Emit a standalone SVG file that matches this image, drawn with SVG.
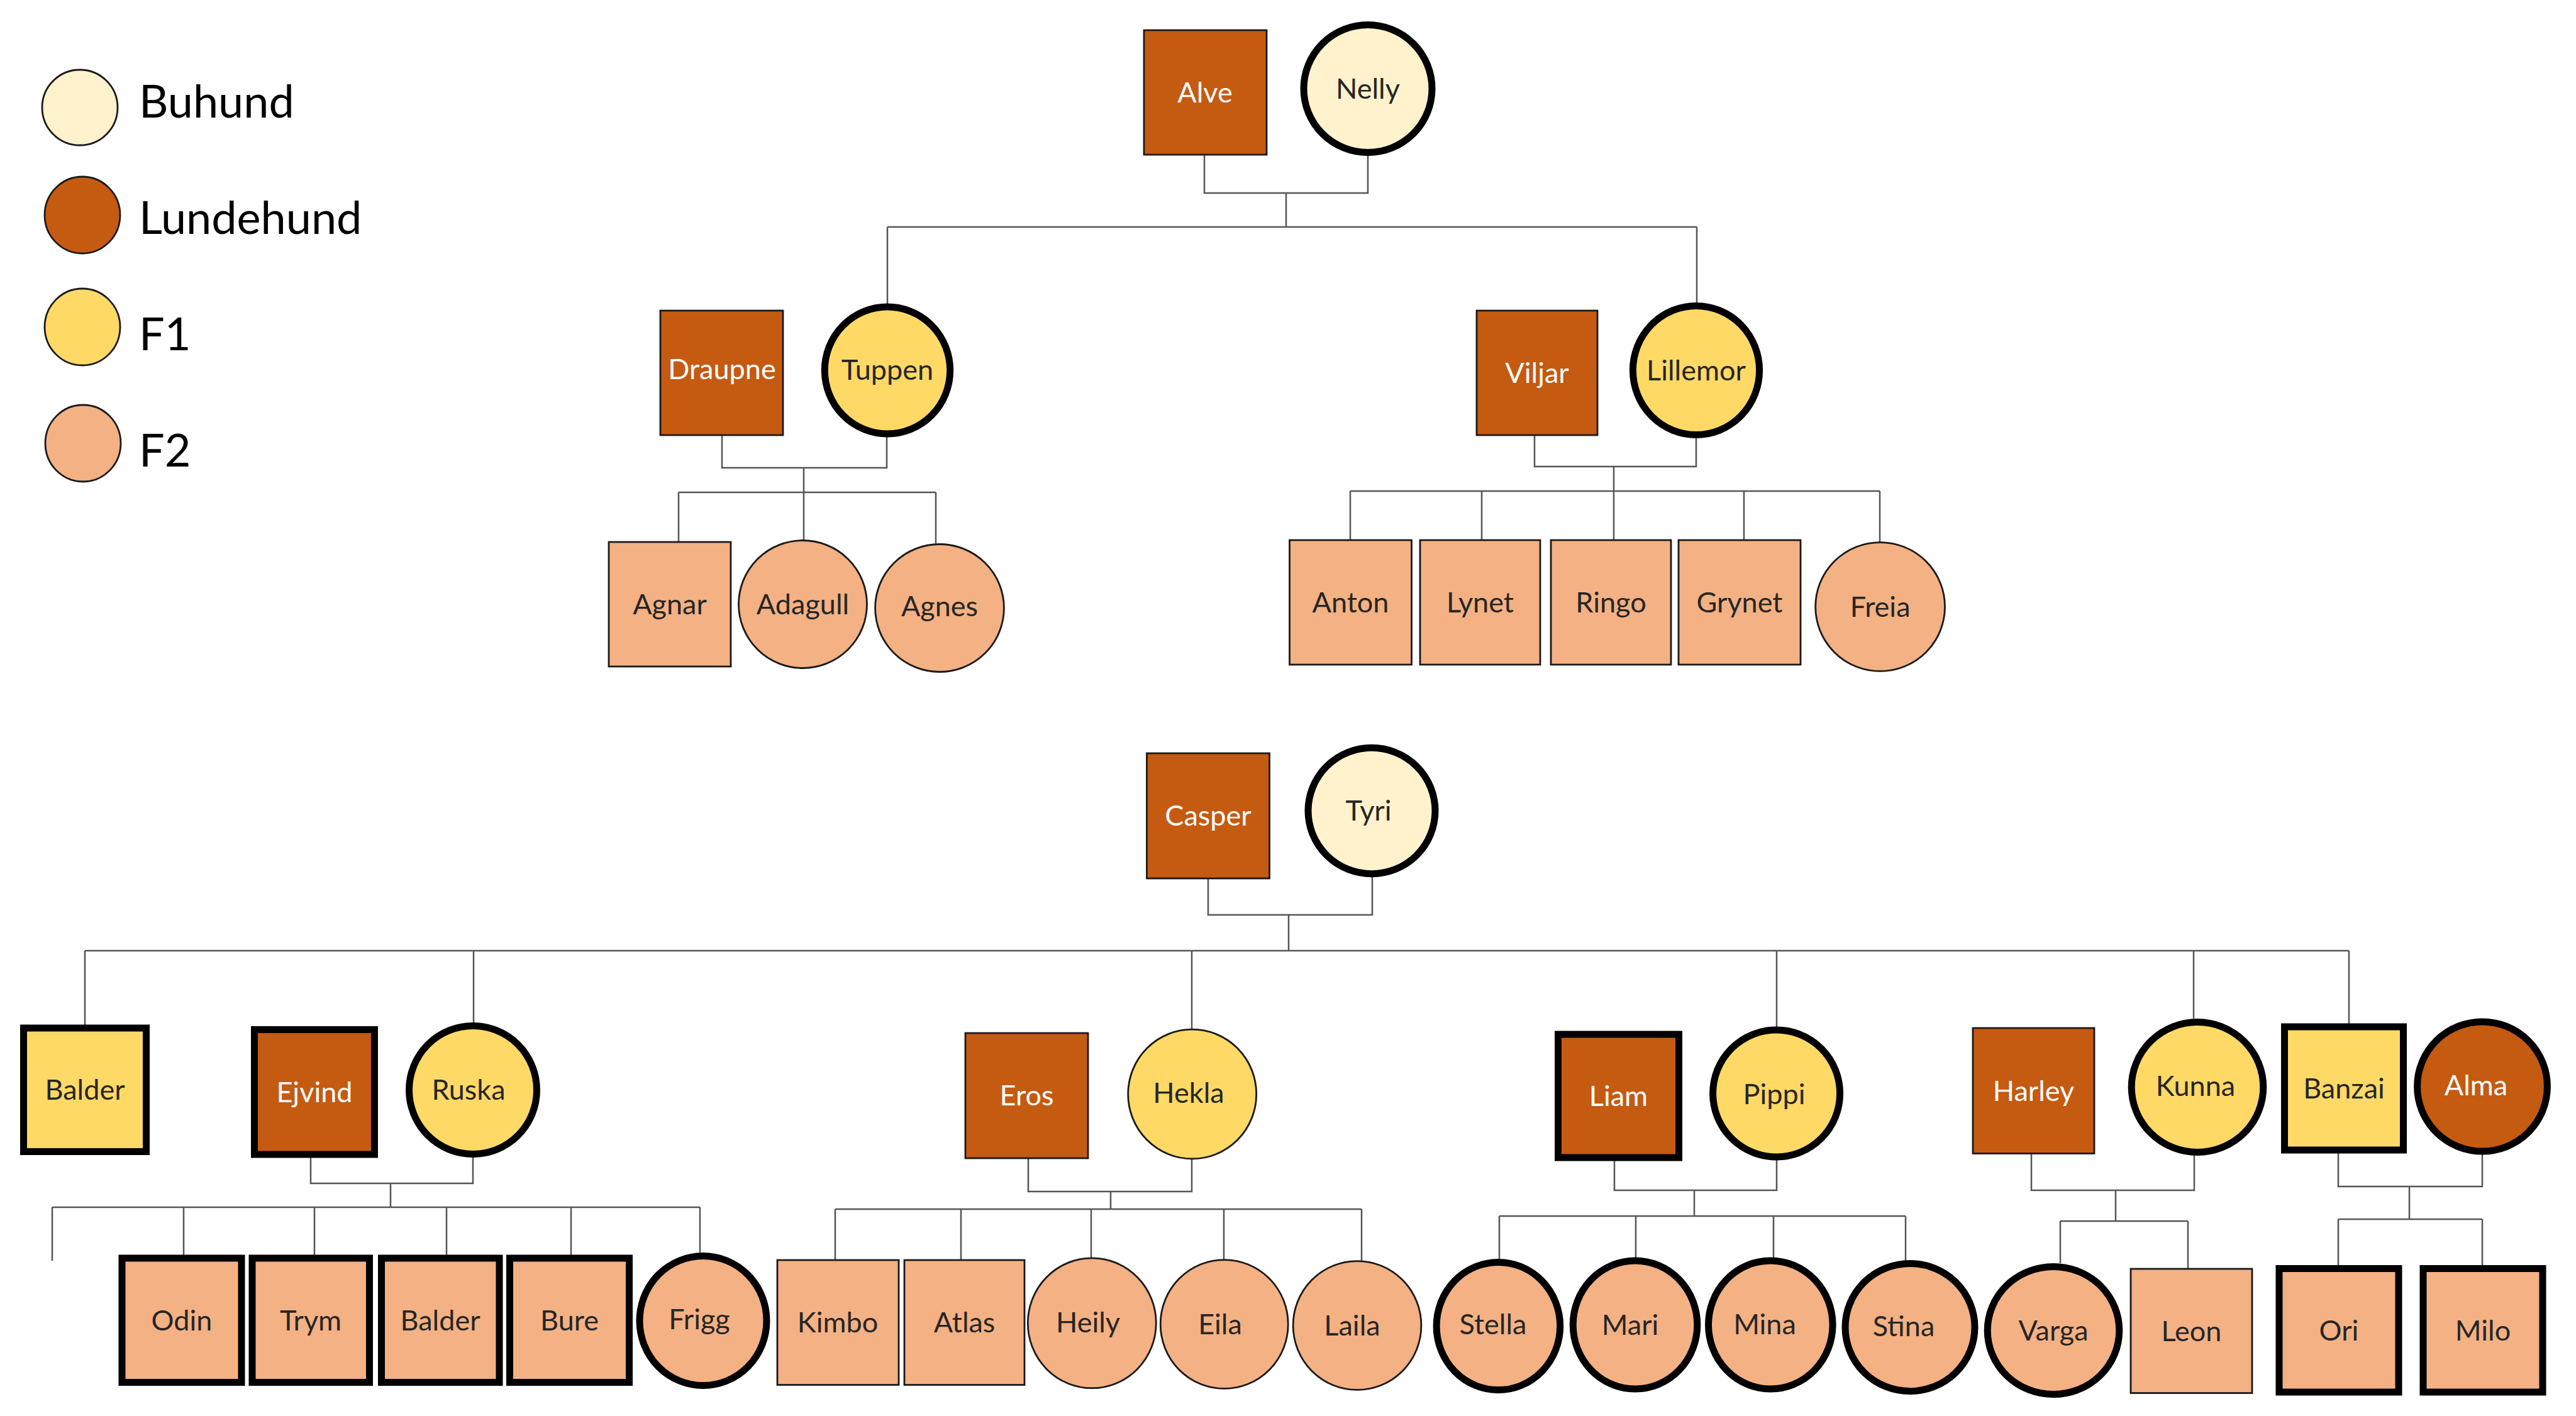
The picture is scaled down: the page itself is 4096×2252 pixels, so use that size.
<svg xmlns="http://www.w3.org/2000/svg" width="4096" height="2252" viewBox="0 0 4096 2252">
<style>
.lun{fill:#C55A11}.buh{fill:#FFF2CC}.f1{fill:#FFD966}.f2{fill:#F4B183}
.thin{stroke:#1a1a1a;stroke-width:2.8}.thick{stroke:#000;stroke-width:11}
.lbl{font-family:Lato,"Open Sans",sans-serif;font-size:45px;text-anchor:middle;fill:#262626}
.w{fill:#ffffff}
.leg{font-family:Lato,"Open Sans",sans-serif;font-size:72px;fill:#000}
.conn{fill:none;stroke:#555;stroke-width:2.5}
</style>
<rect x="0" y="0" width="4096" height="2252" fill="#ffffff"/>
<g id="legend">
<ellipse class="buh thin" cx="127" cy="171" rx="60" ry="60"/><text class="leg" x="221" y="187">Buhund</text>
<ellipse class="lun thin" cx="131" cy="342" rx="60" ry="61"/><text class="leg" x="221" y="372">Lundehund</text>
<ellipse class="f1 thin" cx="131" cy="520" rx="60" ry="61"/><text class="leg" x="221" y="557">F1</text>
<ellipse class="f2 thin" cx="132" cy="705" rx="60" ry="61"/><text class="leg" x="221" y="742">F2</text>
</g>
<g id="connectors">
<path class="conn" d="M1915 246V307H2175V246M2045 307V361M1411 361H2698M1411 361V483M2698 361V481"/>
<path class="conn" d="M1148 692V744H1410V690M1278 744V858M1079 783H1488M1079 783V862M1488 783V865"/>
<path class="conn" d="M2440 692V742H2697V697M2566 742V860M2147 781H2989M2147 781V859M2356 781V859M2773 781V859M2989 781V862"/>
<path class="conn" d="M1921 1397V1455H2182V1395M2049 1455V1512M135 1512H3735M135 1512V1630M753 1512V1626M1895 1512V1636M2825 1512V1633M3488 1512V1620M3735 1512V1628"/>
<path class="conn" d="M494 1841V1882H752V1836M621 1882V1920M83 1920H1113M83 1920V2005M292 1920V1996M500 1920V1996M710 1920V1996M908 1920V1996M1113 1920V1992"/>
<path class="conn" d="M1635 1842V1895H1895V1844M1766 1895V1923M1328 1923H2165M1328 1923V2004M1528 1923V2004M1735 1923V2001M1946 1923V2003M2165 1923V2005"/>
<path class="conn" d="M2567 1846V1893H2825V1840M2694 1893V1934M2384 1934H3030M2384 1934V2005M2601 1934V2004M2820 1934V2004M3030 1934V2008"/>
<path class="conn" d="M3230 1835V1893H3489V1837M3364 1893V1942M3276 1942H3479M3276 1942V2009M3479 1942V2018"/>
<path class="conn" d="M3718 1834V1887H3947V1836M3831 1887V1939M3718 1939H3947M3718 1939V2013M3947 1939V2013"/>
</g>
<g id="n-alve"><rect class="lun thin" x="1819" y="48" width="195" height="198"/><text class="lbl w" x="1916" y="163">Alve</text></g>
<g id="n-nelly"><ellipse class="buh thick" cx="2175" cy="141" rx="102" ry="101.5"/><text class="lbl" x="2175" y="157">Nelly</text></g>
<g id="n-draupne"><rect class="lun thin" x="1050" y="494" width="195" height="198"/><text class="lbl w" x="1148" y="603">Draupne</text></g>
<g id="n-tuppen"><ellipse class="f1 thick" cx="1411" cy="589" rx="99.7" ry="101"/><text class="lbl" x="1411" y="604">Tuppen</text></g>
<g id="n-agnar"><rect class="f2 thin" x="968" y="862" width="194" height="198"/><text class="lbl" x="1065" y="977">Agnar</text></g>
<g id="n-adagull"><ellipse class="f2 thin" cx="1276.5" cy="961" rx="102" ry="101.5"/><text class="lbl" x="1276.5" y="977">Adagull</text></g>
<g id="n-agnes"><ellipse class="f2 thin" cx="1494" cy="967" rx="102.4" ry="101.5"/><text class="lbl" x="1494" y="980">Agnes</text></g>
<g id="n-viljar"><rect class="lun thin" x="2348" y="494" width="192" height="198"/><text class="lbl w" x="2444" y="609">Viljar</text></g>
<g id="n-lillemor"><ellipse class="f1 thick" cx="2697" cy="589" rx="100.6" ry="102.5"/><text class="lbl" x="2697" y="605">Lillemor</text></g>
<g id="n-anton"><rect class="f2 thin" x="2050.5" y="859" width="194" height="198"/><text class="lbl" x="2147.5" y="974">Anton</text></g>
<g id="n-lynet"><rect class="f2 thin" x="2258" y="859" width="191" height="198"/><text class="lbl" x="2353.5" y="974">Lynet</text></g>
<g id="n-ringo"><rect class="f2 thin" x="2466" y="859" width="191" height="198"/><text class="lbl" x="2561.5" y="974">Ringo</text></g>
<g id="n-grynet"><rect class="f2 thin" x="2669" y="859" width="194" height="198"/><text class="lbl" x="2766" y="974">Grynet</text></g>
<g id="n-freia"><ellipse class="f2 thin" cx="2989.6" cy="965" rx="102.9" ry="102.4"/><text class="lbl" x="2989.6" y="981">Freia</text></g>
<g id="n-casper"><rect class="lun thin" x="1823.5" y="1198" width="195" height="199"/><text class="lbl w" x="1921" y="1313">Casper</text></g>
<g id="n-tyri"><ellipse class="buh thick" cx="2181" cy="1289.5" rx="101" ry="100.2"/><text class="lbl" x="2176" y="1305">Tyri</text></g>
<g id="n-balder1"><rect class="f1 thick" x="37.5" y="1635" width="195" height="196.5"/><text class="lbl" x="135" y="1749">Balder</text></g>
<g id="n-ejvind"><rect class="lun thick" x="404.5" y="1637.5" width="191" height="198.5"/><text class="lbl w" x="500" y="1753">Ejvind</text></g>
<g id="n-ruska"><ellipse class="f1 thick" cx="752" cy="1733.5" rx="101.5" ry="102"/><text class="lbl" x="745" y="1749">Ruska</text></g>
<g id="n-odin"><rect class="f2 thick" x="194" y="2001" width="190" height="197.5"/><text class="lbl" x="289" y="2116">Odin</text></g>
<g id="n-trym"><rect class="f2 thick" x="401" y="2001" width="186.5" height="197.5"/><text class="lbl" x="494" y="2116">Trym</text></g>
<g id="n-balder2"><rect class="f2 thick" x="606.5" y="2001" width="187.5" height="197.5"/><text class="lbl" x="700" y="2116">Balder</text></g>
<g id="n-bure"><rect class="f2 thick" x="810.5" y="2001" width="190" height="197.5"/><text class="lbl" x="905.5" y="2116">Bure</text></g>
<g id="n-frigg"><ellipse class="f2 thick" cx="1118" cy="2100.5" rx="101" ry="103"/><text class="lbl" x="1112" y="2114">Frigg</text></g>
<g id="n-eros"><rect class="lun thin" x="1535" y="1643" width="195" height="199"/><text class="lbl w" x="1632.5" y="1758">Eros</text></g>
<g id="n-hekla"><ellipse class="f1 thin" cx="1895.7" cy="1740" rx="102" ry="102.9"/><text class="lbl" x="1890" y="1754">Hekla</text></g>
<g id="n-kimbo"><rect class="f2 thin" x="1236" y="2004" width="193" height="198.5"/><text class="lbl" x="1332" y="2119">Kimbo</text></g>
<g id="n-atlas"><rect class="f2 thin" x="1438" y="2004" width="191" height="198.5"/><text class="lbl" x="1533.5" y="2119">Atlas</text></g>
<g id="n-heily"><ellipse class="f2 thin" cx="1736.3" cy="2104.3" rx="102" ry="103.4"/><text class="lbl" x="1730" y="2119">Heily</text></g>
<g id="n-eila"><ellipse class="f2 thin" cx="1946.7" cy="2106" rx="101.5" ry="102.4"/><text class="lbl" x="1940" y="2122">Eila</text></g>
<g id="n-laila"><ellipse class="f2 thin" cx="2158" cy="2108" rx="101.9" ry="102.4"/><text class="lbl" x="2150" y="2124">Laila</text></g>
<g id="n-liam"><rect class="lun thick" x="2477.5" y="1645" width="192" height="196"/><text class="lbl w" x="2573.5" y="1759">Liam</text></g>
<g id="n-pippi"><ellipse class="f1 thick" cx="2824.6" cy="1739" rx="101" ry="101"/><text class="lbl" x="2821" y="1756">Pippi</text></g>
<g id="n-stella"><ellipse class="f2 thick" cx="2382.4" cy="2109" rx="98.3" ry="101.6"/><text class="lbl" x="2374" y="2122">Stella</text></g>
<g id="n-mari"><ellipse class="f2 thick" cx="2600" cy="2107" rx="98.8" ry="102"/><text class="lbl" x="2592" y="2123">Mari</text></g>
<g id="n-mina"><ellipse class="f2 thick" cx="2815.3" cy="2107" rx="98.8" ry="102"/><text class="lbl" x="2806" y="2122">Mina</text></g>
<g id="n-stina"><ellipse class="f2 thick" cx="3037" cy="2111" rx="103" ry="101.6"/><text class="lbl" x="3027" y="2125">Stina</text></g>
<g id="n-harley"><rect class="lun thin" x="3137" y="1635" width="193" height="199.5"/><text class="lbl w" x="3233.5" y="1751">Harley</text></g>
<g id="n-kunna"><ellipse class="f1 thick" cx="3494" cy="1729" rx="104.8" ry="103.4"/><text class="lbl" x="3491" y="1743">Kunna</text></g>
<g id="n-varga"><ellipse class="f2 thick" cx="3265" cy="2116" rx="104.8" ry="101.6"/><text class="lbl" x="3265" y="2132">Varga</text></g>
<g id="n-leon"><rect class="f2 thin" x="3388" y="2018" width="193" height="197.5"/><text class="lbl" x="3484.5" y="2133">Leon</text></g>
<g id="n-banzai"><rect class="f1 thick" x="3632.5" y="1633" width="189" height="196"/><text class="lbl" x="3727" y="1747">Banzai</text></g>
<g id="n-alma"><ellipse class="lun thick" cx="3947" cy="1728" rx="103.4" ry="103"/><text class="lbl w" x="3937" y="1742">Alma</text></g>
<g id="n-ori"><rect class="f2 thick" x="3624" y="2017.5" width="190" height="196.5"/><text class="lbl" x="3719" y="2132">Ori</text></g>
<g id="n-milo"><rect class="f2 thick" x="3853" y="2017.5" width="190" height="196.5"/><text class="lbl" x="3948" y="2132">Milo</text></g>
</svg>
